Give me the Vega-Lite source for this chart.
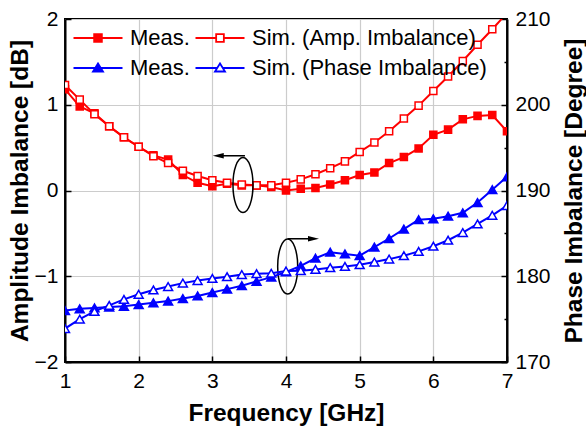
{
  "$schema": "https://vega.github.io/schema/vega-lite/v6.json",
  "width": 442,
  "height": 343,
  "autosize": "none",
  "padding": {"left": 65, "top": 19, "right": 79, "bottom": 69},
  "datasets": {
    "amp": [
      {"f":1.0,"s":"A_meas","v":1.18},{"f":1.2,"s":"A_meas","v":0.98},{"f":1.4,"s":"A_meas","v":0.90},{"f":1.6,"s":"A_meas","v":0.75},{"f":1.8,"s":"A_meas","v":0.62},{"f":2.0,"s":"A_meas","v":0.51},{"f":2.2,"s":"A_meas","v":0.41},{"f":2.4,"s":"A_meas","v":0.36},{"f":2.6,"s":"A_meas","v":0.18},{"f":2.8,"s":"A_meas","v":0.09},{"f":3.0,"s":"A_meas","v":0.05},{"f":3.2,"s":"A_meas","v":0.08},{"f":3.4,"s":"A_meas","v":0.06},{"f":3.6,"s":"A_meas","v":0.06},{"f":3.8,"s":"A_meas","v":0.04},{"f":4.0,"s":"A_meas","v":0.00},{"f":4.2,"s":"A_meas","v":0.02},{"f":4.4,"s":"A_meas","v":0.03},{"f":4.6,"s":"A_meas","v":0.07},{"f":4.8,"s":"A_meas","v":0.12},{"f":5.0,"s":"A_meas","v":0.18},{"f":5.2,"s":"A_meas","v":0.21},{"f":5.4,"s":"A_meas","v":0.32},{"f":5.6,"s":"A_meas","v":0.39},{"f":5.8,"s":"A_meas","v":0.49},{"f":6.0,"s":"A_meas","v":0.65},{"f":6.2,"s":"A_meas","v":0.71},{"f":6.4,"s":"A_meas","v":0.83},{"f":6.6,"s":"A_meas","v":0.87},{"f":6.8,"s":"A_meas","v":0.88},{"f":7.0,"s":"A_meas","v":0.69},
      {"f":1.0,"s":"A_sim","v":1.23},{"f":1.2,"s":"A_sim","v":1.06},{"f":1.4,"s":"A_sim","v":0.89},{"f":1.6,"s":"A_sim","v":0.75},{"f":1.8,"s":"A_sim","v":0.62},{"f":2.0,"s":"A_sim","v":0.51},{"f":2.2,"s":"A_sim","v":0.40},{"f":2.4,"s":"A_sim","v":0.32},{"f":2.6,"s":"A_sim","v":0.23},{"f":2.8,"s":"A_sim","v":0.17},{"f":3.0,"s":"A_sim","v":0.12},{"f":3.2,"s":"A_sim","v":0.09},{"f":3.4,"s":"A_sim","v":0.07},{"f":3.6,"s":"A_sim","v":0.06},{"f":3.8,"s":"A_sim","v":0.06},{"f":4.0,"s":"A_sim","v":0.09},{"f":4.2,"s":"A_sim","v":0.13},{"f":4.4,"s":"A_sim","v":0.19},{"f":4.6,"s":"A_sim","v":0.26},{"f":4.8,"s":"A_sim","v":0.34},{"f":5.0,"s":"A_sim","v":0.45},{"f":5.2,"s":"A_sim","v":0.56},{"f":5.4,"s":"A_sim","v":0.69},{"f":5.6,"s":"A_sim","v":0.84},{"f":5.8,"s":"A_sim","v":0.99},{"f":6.0,"s":"A_sim","v":1.16},{"f":6.2,"s":"A_sim","v":1.33},{"f":6.4,"s":"A_sim","v":1.51},{"f":6.6,"s":"A_sim","v":1.70},{"f":6.8,"s":"A_sim","v":1.88},{"f":7.0,"s":"A_sim","v":2.07}
    ],
    "phase": [
      {"f":1.0,"s":"P_meas","v":176.0},{"f":1.2,"s":"P_meas","v":176.2},{"f":1.4,"s":"P_meas","v":176.3},{"f":1.6,"s":"P_meas","v":176.4},{"f":1.8,"s":"P_meas","v":176.5},{"f":2.0,"s":"P_meas","v":176.7},{"f":2.2,"s":"P_meas","v":176.9},{"f":2.4,"s":"P_meas","v":177.1},{"f":2.6,"s":"P_meas","v":177.4},{"f":2.8,"s":"P_meas","v":177.7},{"f":3.0,"s":"P_meas","v":178.1},{"f":3.2,"s":"P_meas","v":178.5},{"f":3.4,"s":"P_meas","v":178.9},{"f":3.6,"s":"P_meas","v":179.4},{"f":3.8,"s":"P_meas","v":179.9},{"f":4.0,"s":"P_meas","v":180.5},{"f":4.2,"s":"P_meas","v":181.2},{"f":4.4,"s":"P_meas","v":182.1},{"f":4.6,"s":"P_meas","v":182.8},{"f":4.8,"s":"P_meas","v":182.6},{"f":5.0,"s":"P_meas","v":182.4},{"f":5.2,"s":"P_meas","v":183.4},{"f":5.4,"s":"P_meas","v":184.4},{"f":5.6,"s":"P_meas","v":185.5},{"f":5.8,"s":"P_meas","v":186.6},{"f":6.0,"s":"P_meas","v":186.7},{"f":6.2,"s":"P_meas","v":187.0},{"f":6.4,"s":"P_meas","v":187.4},{"f":6.6,"s":"P_meas","v":188.6},{"f":6.8,"s":"P_meas","v":190.1},{"f":7.0,"s":"P_meas","v":191.6},
      {"f":1.0,"s":"P_sim","v":173.9},{"f":1.2,"s":"P_sim","v":175.0},{"f":1.4,"s":"P_sim","v":175.9},{"f":1.6,"s":"P_sim","v":176.6},{"f":1.8,"s":"P_sim","v":177.3},{"f":2.0,"s":"P_sim","v":177.9},{"f":2.2,"s":"P_sim","v":178.4},{"f":2.4,"s":"P_sim","v":178.8},{"f":2.6,"s":"P_sim","v":179.2},{"f":2.8,"s":"P_sim","v":179.5},{"f":3.0,"s":"P_sim","v":179.75},{"f":3.2,"s":"P_sim","v":179.95},{"f":3.4,"s":"P_sim","v":180.2},{"f":3.6,"s":"P_sim","v":180.3},{"f":3.8,"s":"P_sim","v":180.35},{"f":4.0,"s":"P_sim","v":180.6},{"f":4.2,"s":"P_sim","v":180.65},{"f":4.4,"s":"P_sim","v":180.8},{"f":4.6,"s":"P_sim","v":181.0},{"f":4.8,"s":"P_sim","v":181.15},{"f":5.0,"s":"P_sim","v":181.35},{"f":5.2,"s":"P_sim","v":181.65},{"f":5.4,"s":"P_sim","v":182.0},{"f":5.6,"s":"P_sim","v":182.4},{"f":5.8,"s":"P_sim","v":182.9},{"f":6.0,"s":"P_sim","v":183.5},{"f":6.2,"s":"P_sim","v":184.2},{"f":6.4,"s":"P_sim","v":185.1},{"f":6.6,"s":"P_sim","v":186.1},{"f":6.8,"s":"P_sim","v":187.1},{"f":7.0,"s":"P_sim","v":188.25}
    ],
    "none": [],
    "ell": [{"f":3.416,"v":0.064},{"f":4.023,"v":-0.886}],
    "arr": [{"f":3.443,"f2":3.1,"v":0.405},{"f":4.023,"f2":4.35,"v":-0.563}],
    "headL": [{"f":3.08,"v":0.405}],
    "headR": [{"f":4.373,"v":-0.563}]
  },
  "config": {
    "font": "Liberation Sans",
    "view": {"stroke": "black", "strokeWidth": 2},
    "axis": {
      "domainColor": "black", "domainWidth": 2,
      "tickColor": "black", "tickWidth": 1.5,
      "labelFont": "Liberation Sans", "labelFontSize": 21, "labelColor": "black",
      "titleFont": "Liberation Sans", "titleFontSize": 24.5, "titleFontWeight": "bold", "titleColor": "black",
      "gridColor": "#cccccc", "gridWidth": 1.2
    },
    "legend": {
      "labelFont": "Liberation Sans", "labelFontSize": 22, "labelColor": "black", "symbolOpacity": 1
    }
  },
  "layer": [
    {
      "layer": [
        {
          "data": {"name": "amp"},
          "mark": {"type": "line", "strokeWidth": 2, "clip": true},
          "encoding": {
            "x": {"field": "f", "type": "quantitative", "scale": {"domain": [1, 7], "nice": false, "zero": false},
              "axis": {"title": "Frequency [GHz]", "values": [1,1.5,2,2.5,3,3.5,4,4.5,5,5.5,6,6.5,7], "format": "d",
                "labelExpr": "datum.value % 1 === 0 ? datum.label : ''",
                "tickSize": {"condition": {"test": "datum.value % 1 !== 0", "value": -3}, "value": -6},
                "gridOpacity": {"condition": {"test": "datum.value % 1 !== 0", "value": 0}, "value": 1},
                "labelPadding": 14, "titlePadding": 10, "labelFlush": false}},
            "y": {"field": "v", "type": "quantitative", "scale": {"domain": [-2, 2], "nice": false, "zero": false},
              "axis": {"title": "Amplitude Imbalance [dB]", "values": [-2,-1.5,-1,-0.5,0,0.5,1,1.5,2], "format": "d",
                "labelExpr": "datum.value % 1 === 0 ? datum.label : ''",
                "tickSize": {"condition": {"test": "datum.value % 1 !== 0", "value": -3}, "value": -6},
                "gridOpacity": {"condition": {"test": "datum.value % 1 !== 0", "value": 0}, "value": 1},
                "labelPadding": 13, "titlePadding": 2}},
            "stroke": {"field": "s", "type": "nominal", "scale": {"domain": ["A_meas","A_sim","P_meas","P_sim"], "range": ["#ff0000","#ff0000","#0000ff","#0000ff"]},
              "legend": {"title": null, "orient": "none", "legendX": 22, "legendY": 8, "columns": 2, "direction": "horizontal", "padding": 0,
                "symbolSize": 49, "symbolStrokeWidth": 1.8, "symbolOpacity": 1, "labelOffset": 21, "rowPadding": 8, "columnPadding": 1, "labelLimit": 400,
                "labelExpr": "datum.value === 'A_sim' ? 'Sim. (Amp. Imbalance)' : datum.value === 'P_sim' ? 'Sim. (Phase Imbalance)' : 'Meas.'"}}
          }
        },
        {
          "data": {"name": "none"},
          "mark": {"type": "point", "filled": true, "opacity": 1, "strokeWidth": 1.8},
          "encoding": {
            "x": {"field": "f", "type": "quantitative"},
            "y": {"field": "v", "type": "quantitative"},
            "stroke": {"field": "s", "type": "nominal", "scale": {"domain": ["A_meas","A_sim","P_meas","P_sim"], "range": ["#ff0000","#ff0000","#0000ff","#0000ff"]}},
            "fill": {"field": "s", "type": "nominal", "scale": {"domain": ["A_meas","A_sim","P_meas","P_sim"], "range": ["#ff0000","#ffffff","#0000ff","#ffffff"]}},
            "shape": {"field": "s", "type": "nominal", "scale": {"domain": ["A_meas","A_sim","P_meas","P_sim"], "range": ["M-7,0H-1.1M1.1,0H7M-1.1,-1.1H1.1V1.1H-1.1Z","M-7,0H-1.1M1.1,0H7M-1.1,-1.1H1.1V1.1H-1.1Z","M-7,0H-0.85M0.85,0H7M0,-1.3L-1.43,1L1.43,1Z","M-7,0H-0.85M0.85,0H7M0,-1.3L-1.43,1L1.43,1Z"]}}
          }
        },
        {
          "data": {"name": "amp"},
          "mark": {"type": "point", "shape": "square", "filled": true, "opacity": 1, "strokeWidth": 1.5, "size": 50, "clip": true},
          "encoding": {
            "x": {"field": "f", "type": "quantitative"},
            "y": {"field": "v", "type": "quantitative"},
            "stroke": {"field": "s", "type": "nominal", "scale": {"domain": ["A_meas","A_sim","P_meas","P_sim"], "range": ["#ff0000","#ff0000","#0000ff","#0000ff"]}},
            "fill": {"field": "s", "type": "nominal", "scale": {"domain": ["A_meas","A_sim","P_meas","P_sim"], "range": ["#ff0000","#ffffff","#0000ff","#ffffff"]}}
          }
        },
        {
          "data": {"name": "ell"},
          "mark": {"type": "point", "shape": "M0,-1A0.364,1 0 1,1 0,1A0.364,1 0 1,1 0,-1Z", "size": 3025, "filled": false, "stroke": "black", "strokeWidth": 1.5, "opacity": 1},
          "encoding": {"x": {"field": "f", "type": "quantitative"}, "y": {"field": "v", "type": "quantitative"}}
        },
        {
          "data": {"name": "arr"},
          "mark": {"type": "rule", "stroke": "black", "strokeWidth": 1.5},
          "encoding": {"x": {"field": "f", "type": "quantitative"}, "x2": {"field": "f2"}, "y": {"field": "v", "type": "quantitative"}}
        },
        {
          "data": {"name": "headL"},
          "mark": {"type": "point", "shape": "M-1,0L1,-0.5L1,0.5Z", "size": 121, "filled": true, "fill": "black", "opacity": 1},
          "encoding": {"x": {"field": "f", "type": "quantitative"}, "y": {"field": "v", "type": "quantitative"}}
        },
        {
          "data": {"name": "headR"},
          "mark": {"type": "point", "shape": "M1,0L-1,-0.5L-1,0.5Z", "size": 121, "filled": true, "fill": "black", "opacity": 1},
          "encoding": {"x": {"field": "f", "type": "quantitative"}, "y": {"field": "v", "type": "quantitative"}}
        }
      ]
    },
    {
      "layer": [
        {
          "data": {"name": "phase"},
          "mark": {"type": "line", "strokeWidth": 2, "clip": true},
          "encoding": {
            "x": {"field": "f", "type": "quantitative"},
            "y": {"field": "v", "type": "quantitative", "scale": {"domain": [170, 210], "nice": false, "zero": false},
              "axis": {"title": "Phase Imbalance [Degree]", "orient": "right", "grid": false, "values": [170,175,180,185,190,195,200,205,210], "format": "d",
                "labelExpr": "datum.value % 10 === 0 ? datum.label : ''",
                "tickSize": {"condition": {"test": "datum.value % 10 !== 0", "value": -3}, "value": -6},
                "labelPadding": 14, "titlePadding": 36, "titleAngle": 270}},
            "stroke": {"field": "s", "type": "nominal", "scale": {"domain": ["A_meas","A_sim","P_meas","P_sim"], "range": ["#ff0000","#ff0000","#0000ff","#0000ff"]}}
          }
        },
        {
          "data": {"name": "phase"},
          "mark": {"type": "point", "shape": "triangle-up", "filled": true, "opacity": 1, "strokeWidth": 1.5, "size": 80, "clip": true},
          "encoding": {
            "x": {"field": "f", "type": "quantitative"},
            "y": {"field": "v", "type": "quantitative"},
            "stroke": {"field": "s", "type": "nominal", "scale": {"domain": ["A_meas","A_sim","P_meas","P_sim"], "range": ["#ff0000","#ff0000","#0000ff","#0000ff"]}},
            "fill": {"field": "s", "type": "nominal", "scale": {"domain": ["A_meas","A_sim","P_meas","P_sim"], "range": ["#ff0000","#ffffff","#0000ff","#ffffff"]}}
          }
        }
      ]
    }
  ],
  "resolve": {"scale": {"y": "independent"}}
}
